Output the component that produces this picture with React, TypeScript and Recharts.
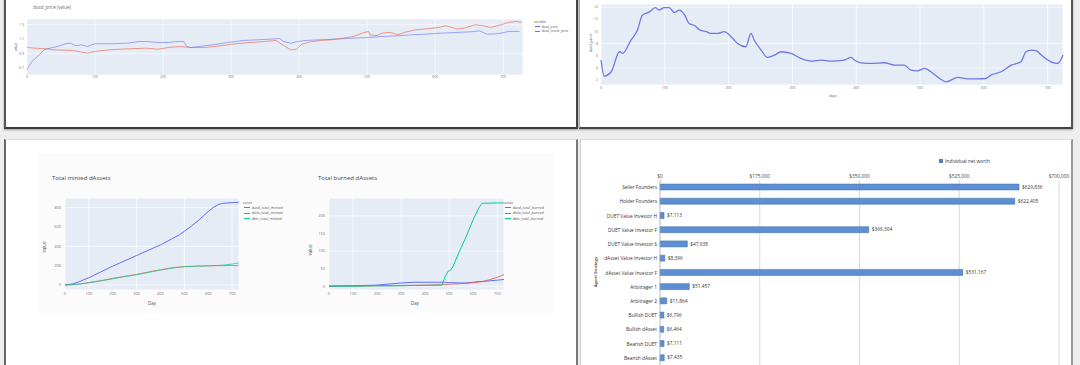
import { LineChart, Line, XAxis, YAxis, CartesianGrid, BarChart, Bar, LabelList } from 'recharts'

// ---- top left: dusd price ----
const dusdPriceDays = [0, 7, 18, 26, 34, 45, 56, 64, 72, 80, 89, 99, 121, 148, 165, 176, 192, 208, 219, 230, 235, 241, 252, 273, 295, 317, 339, 360, 371, 377, 388, 398, 409, 431, 453, 480, 502, 523, 545, 567, 589, 610, 632, 654, 665, 676, 686, 697, 708, 724]
const dusdPriceValues = [0.68, 0.79, 0.885, 0.963, 0.977, 1.0, 1.037, 1.046, 1.009, 1.023, 1.0, 1.037, 1.037, 1.046, 1.069, 1.069, 1.055, 1.055, 1.069, 1.069, 1.0, 0.986, 1.0, 1.023, 1.055, 1.083, 1.092, 1.102, 1.111, 1.069, 1.046, 1.069, 1.083, 1.092, 1.102, 1.115, 1.125, 1.138, 1.148, 1.162, 1.171, 1.185, 1.194, 1.203, 1.217, 1.171, 1.171, 1.185, 1.208, 1.208]
const oraclePriceDays = [0, 26, 40, 67, 80, 89, 99, 121, 148, 176, 192, 208, 224, 241, 262, 284, 306, 328, 349, 366, 374, 382, 388, 396, 404, 415, 431, 447, 464, 480, 493, 502, 504, 513, 523, 534, 545, 556, 572, 589, 605, 616, 632, 643, 659, 670, 681, 697, 708, 719, 727]
const oraclePriceValues = [0.986, 0.968, 0.954, 0.945, 0.922, 0.908, 0.931, 0.954, 0.968, 0.977, 0.963, 0.986, 1.0, 0.986, 0.986, 1.009, 1.037, 1.055, 1.069, 1.083, 1.032, 0.986, 0.954, 0.963, 1.032, 1.06, 1.083, 1.092, 1.115, 1.138, 1.185, 1.208, 1.162, 1.148, 1.185, 1.194, 1.162, 1.198, 1.231, 1.245, 1.263, 1.286, 1.24, 1.254, 1.3, 1.286, 1.263, 1.3, 1.332, 1.346, 1.332]
const priceSeriesNames = ['dusd_price', 'dusd_oracle_price']

// ---- top right: duet price ----
const duetDays = [0, 5, 16, 29, 34, 47, 57, 65, 76, 85, 91, 99, 107, 115, 123, 131, 138, 146, 154, 165, 172, 183, 193, 204, 214, 227, 235, 240, 251, 261, 272, 282, 298, 313, 329, 345, 361, 381, 392, 397, 408, 423, 444, 460, 475, 486, 496, 507, 517, 533, 541, 559, 575, 590, 603, 611, 627, 643, 658, 666, 674, 682, 690, 705, 716, 724]
const duetValues = [5.29, 2.66, 3.37, 6.66, 6.39, 8.58, 10.2, 12.7, 13.2, 13.9, 13.5, 13.9, 13.9, 13.1, 13.5, 12.7, 11.3, 11.0, 10.3, 9.95, 9.68, 9.68, 9.95, 9.12, 8.03, 7.48, 9.68, 8.58, 6.93, 5.73, 6.11, 6.66, 6.39, 5.57, 5.12, 5.29, 5.12, 5.29, 5.73, 5.29, 4.85, 4.74, 4.85, 4.47, 4.47, 3.64, 3.53, 3.92, 3.37, 2.11, 1.72, 2.44, 2.22, 2.22, 2.27, 2.82, 3.37, 4.47, 5.01, 6.66, 6.93, 6.83, 6.11, 5.01, 4.74, 6.11]

// ---- bottom left: minted / burned ----
const mintedDays = [0, 30, 60, 100, 150, 200, 250, 300, 350, 400, 450, 480, 500, 530, 560, 600, 620, 640, 660, 700, 728]
const dusdMinted = [0, 10, 35, 75, 135, 195, 250, 305, 360, 415, 480, 520, 555, 610, 670, 760, 800, 830, 845, 852, 855]
const dtslaMinted = [0, 4, 10, 25, 45, 68, 90, 110, 135, 158, 178, 186, 190, 193, 195, 198, 199, 200, 200, 202, 200]
const dbtcMinted = [0, 3, 9, 22, 42, 64, 86, 105, 130, 154, 175, 184, 189, 192, 195, 198, 200, 202, 205, 216, 228]
const mintedNames = ['dusd_total_minted', 'dtsla_total_minted', 'dbtc_total_minted']

const burnedDays = [0, 100, 200, 250, 300, 350, 400, 470, 485, 495, 505, 515, 540, 570, 600, 625, 637, 650, 700, 728]
const dusdBurned = [0, 1, 3, 6, 9, 11, 11, 11, 11, 10, 10, 10, 9, 9, 11, 13, 13, 14, 17, 19]
const dtslaBurned = [0, 0, 1, 1, 2, 2, 3, 4, 5, 5, 6, 6, 7, 8, 10, 12, 13, 15, 25, 33]
const dbtcBurned = [0, 0, 1, 1, 1, 2, 2, 3, 30, 42, 45, 55, 95, 140, 190, 225, 236, 236, 237, 237]
const burnedNames = ['dusd_total_burned', 'dtsla_total_burned', 'dbtc_total_burned']

// ---- bottom right: net worth ----
const strategies = ['Seller Founders', 'Holder Founders', 'DUET Value Investor H', 'DUET Value Investor F', 'DUET Value Investor S', 'dAsset Value Investor H', 'dAsset Value Investor F', 'Arbitrager 1', 'Arbitrager 2', 'Bullish DUET', 'Bullish dAsset', 'Bearish DUET', 'Bearish dAsset']
const netWorth = [629836, 622405, 7113, 366304, 47938, 8396, 531167, 51457, 11864, 6796, 6464, 7111, 7435]
const netWorthTicks = [0, 175000, 350000, 525000, 700000]

const dayTicks = [0, 100, 200, 300, 400, 500, 600, 700]
const PLOT_BG = '#e5ecf6'
const COLORS = ['#636efa', '#ef553b', '#00cc96']
const FONT = '"Open Sans", "Liberation Sans", sans-serif'
const BAR_FONT = 4.8

const zip = (days: number[], values: number[]) => days.map((day, i) => ({ day, value: values[i] }))

const money = (v: number) => '$' + v.toLocaleString('en-US')

function Txt({ x, y, size, color = '#555', rotate, center, children, weight }: any) {
  return (
    <div
      style={{
        position: 'absolute',
        left: x,
        top: y,
        fontSize: size,
        color,
        lineHeight: 1,
        whiteSpace: 'nowrap',
        fontWeight: weight,
        transform: `${center ? 'translate(-50%, -50%)' : ''} ${rotate ? `rotate(${rotate}deg)` : ''}`,
      }}
    >
      {children}
    </div>
  )
}

function PlotlyLegend({ x, y, title, names, size }: any) {
  return (
    <div style={{ position: 'absolute', left: x, top: y, fontSize: size, color: '#555', lineHeight: 1.45 }}>
      <div>{title}</div>
      {names.map((n: string, i: number) => (
        <div key={n} style={{ display: 'flex', alignItems: 'center', whiteSpace: 'nowrap' }}>
          <span style={{ display: 'inline-block', width: size * 1.6, height: 1, background: COLORS[i], marginRight: size * 0.5, marginLeft: size * 0.3 }} />
          {n}
        </div>
      ))}
    </div>
  )
}

function Panel({ style }: any) {
  return <div style={{ position: 'absolute', background: '#fff', boxSizing: 'border-box', ...style }} />
}

function StrategyTick({ x, y, payload }: any) {
  return (
    <text x={x} y={y} textAnchor="end" dominantBaseline="central" fontSize={BAR_FONT} fill="#333" fontFamily={FONT}>
      {payload.value}
    </text>
  )
}

export default function App() {
  const tick = (size: number) => ({ fontSize: size, fill: '#777', fontFamily: FONT })
  return (
    <div style={{ position: 'fixed', left: 0, top: 0, width: 1080, height: 365, overflow: 'hidden', background: '#eeeeee', fontFamily: FONT }}>
      <Panel style={{ left: 4, top: -2, width: 574, height: 131, borderLeft: '2px solid #555', borderRight: '2px solid #444', borderBottom: '2px solid #3a3a3a', boxShadow: '0 1px 2px rgba(0,0,0,0.35)' }} />
      <Panel style={{ left: 579, top: -2, width: 494, height: 131, borderLeft: '1px solid #aaa', borderRight: '2px solid #555', borderBottom: '2px solid #444', boxShadow: '0 1px 2px rgba(0,0,0,0.3)' }} />
      <Panel style={{ left: 4, top: 139, width: 574, height: 240, borderLeft: '2px solid #666', borderRight: '2px solid #777', borderTop: '1px solid #ddd' }} />
      <Panel style={{ left: 580, top: 139, width: 493, height: 240, borderLeft: '1px solid #ccc', borderRight: '2px solid #999', borderTop: '1px solid #ddd' }} />
      <div style={{ position: 'absolute', left: 37, top: 153, width: 518, height: 160, background: '#fbfbfc' }} />

      {/* top left */}
      <div style={{ position: 'absolute', left: 0, top: 0 }}>
        <LineChart width={580} height={130} margin={{ top: 19, right: 57, bottom: 0, left: 0 }}>
          <CartesianGrid fill={PLOT_BG} stroke="#fff" strokeWidth={0.6} />
          <XAxis type="number" dataKey="day" domain={[0, 729]} ticks={dayTicks} tick={tick(3.5)} tickLine={false} axisLine={false} height={55} tickSize={0} tickMargin={1} />
          <YAxis type="number" domain={[0.607, 1.379]} ticks={[0.7, 0.8, 0.9, 1, 1.1, 1.2, 1.3]} tick={tick(3.5)} tickLine={false} axisLine={false} width={27} tickSize={0} tickMargin={3} />
          <Line data={zip(dusdPriceDays, dusdPriceValues)} dataKey="value" name={priceSeriesNames[0]} stroke={COLORS[0]} strokeOpacity={0.65} strokeWidth={0.9} dot={false} isAnimationActive={false} />
          <Line data={zip(oraclePriceDays, oraclePriceValues)} dataKey="value" name={priceSeriesNames[1]} stroke={COLORS[1]} strokeOpacity={0.65} strokeWidth={0.9} dot={false} isAnimationActive={false} />
        </LineChart>
      </div>
      <Txt x={33} y={5} size={4.5} color="#666">dusd_price (value)</Txt>
      <Txt x={16} y={47} size={3.5} center rotate={-90}>value</Txt>
      <PlotlyLegend x={534} y={20} title="variable" names={priceSeriesNames} size={3.2} />

      {/* top right */}
      <div style={{ position: 'absolute', left: 578, top: 0 }}>
        <LineChart width={500} height={130} margin={{ top: 4, right: 15, bottom: 0, left: 0 }}>
          <CartesianGrid fill={PLOT_BG} stroke="#fff" strokeWidth={0.7} />
          <XAxis type="number" dataKey="day" domain={[0, 724]} ticks={dayTicks} tick={tick(3.5)} tickLine={false} axisLine={false} height={45} tickSize={0} tickMargin={2} />
          <YAxis type="number" domain={[1.2, 14.5]} ticks={[2, 4, 6, 8, 10, 12, 14]} tick={tick(3.5)} tickLine={false} axisLine={false} width={23} tickSize={0} tickMargin={3} />
          <Line data={zip(duetDays, duetValues)} type="monotone" dataKey="value" stroke="#6f79e6" strokeWidth={1.3} dot={false} isAnimationActive={false} />
        </LineChart>
      </div>
      <Txt x={591} y={43} size={3.8} center rotate={-90}>duet_price</Txt>
      <Txt x={833} y={96} size={3.5} center>days</Txt>

      {/* bottom left: minted */}
      <div style={{ position: 'absolute', left: 20, top: 150 }}>
        <LineChart width={300} height={200} margin={{ top: 48, right: 81, bottom: 0, left: 0 }}>
          <CartesianGrid fill={PLOT_BG} stroke="#fff" strokeWidth={0.7} />
          <XAxis type="number" dataKey="day" domain={[0, 729]} ticks={dayTicks} tick={tick(4)} tickLine={false} axisLine={false} height={60} tickSize={0} tickMargin={2} />
          <YAxis type="number" domain={[-52, 900]} ticks={[0, 200, 400, 600, 800]} tick={tick(4)} tickLine={false} axisLine={false} width={45} tickSize={0} tickMargin={4} />
          <Line data={zip(mintedDays, dusdMinted)} dataKey="value" stroke={COLORS[0]} strokeWidth={1} dot={false} isAnimationActive={false} />
          <Line data={zip(mintedDays, dtslaMinted)} dataKey="value" stroke={COLORS[1]} strokeOpacity={0.7} strokeWidth={1} dot={false} isAnimationActive={false} />
          <Line data={zip(mintedDays, dbtcMinted)} dataKey="value" stroke={COLORS[2]} strokeOpacity={0.7} strokeWidth={1} dot={false} isAnimationActive={false} />
        </LineChart>
      </div>
      <Txt x={52} y={175} size={6} color="#444">Total minted dAssets</Txt>
      <Txt x={44} y={247} size={4.5} center rotate={-90}>value</Txt>
      <Txt x={152} y={303} size={4.5} center>Day</Txt>
      <PlotlyLegend x={243} y={200} title="asset" names={mintedNames} size={3.6} />

      {/* bottom left: burned */}
      <div style={{ position: 'absolute', left: 290, top: 150 }}>
        <LineChart width={250} height={200} margin={{ top: 48, right: 36, bottom: 0, left: 0 }}>
          <CartesianGrid fill={PLOT_BG} stroke="#fff" strokeWidth={0.7} />
          <XAxis type="number" dataKey="day" domain={[0, 725]} ticks={dayTicks} tick={tick(4)} tickLine={false} axisLine={false} height={60} tickSize={0} tickMargin={2} />
          <YAxis type="number" domain={[-11, 251]} ticks={[0, 50, 100, 150, 200]} tick={tick(4)} tickLine={false} axisLine={false} width={39} tickSize={0} tickMargin={4} />
          <Line data={zip(burnedDays, dusdBurned)} dataKey="value" stroke={COLORS[0]} strokeWidth={1} dot={false} isAnimationActive={false} />
          <Line data={zip(burnedDays, dtslaBurned)} dataKey="value" stroke={COLORS[1]} strokeOpacity={0.8} strokeWidth={1} dot={false} isAnimationActive={false} />
          <Line data={zip(burnedDays, dbtcBurned)} dataKey="value" stroke={COLORS[2]} strokeWidth={1} dot={false} isAnimationActive={false} />
        </LineChart>
      </div>
      <Txt x={318} y={175} size={6} color="#444">Total burned dAssets</Txt>
      <Txt x={310} y={250} size={4.5} center rotate={-90}>value</Txt>
      <Txt x={415} y={303} size={4.5} center>Day</Txt>
      <PlotlyLegend x={504} y={200} title="asset" names={burnedNames} size={3.6} />

      {/* bottom right: net worth */}
      <div style={{ position: 'absolute', left: 578, top: 140 }}>
        <BarChart
          layout="vertical"
          width={500}
          height={226}
          data={strategies.map((s, i) => ({ strategy: s, worth: netWorth[i] }))}
          margin={{ top: 30, right: 19, bottom: 1, left: 0 }}
        >
          <CartesianGrid horizontal={false} stroke="#cfcfcf" strokeWidth={0.8} />
          <XAxis type="number" orientation="top" domain={[0, 700000]} ticks={netWorthTicks} tickFormatter={money} tick={{ ...tick(BAR_FONT), fill: '#444' }} tickLine={false} axisLine={false} height={10} tickSize={0} tickMargin={2} />
          <YAxis type="category" dataKey="strategy" tick={<StrategyTick />} tickLine={false} axisLine={{ stroke: '#bbb', strokeWidth: 0.6 }} width={82} tickSize={0} tickMargin={3} interval={0} />
          <Bar dataKey="worth" fill="#5d8fd3" stroke="#3e6aa8" strokeWidth={0.5} barSize={6} isAnimationActive={false}>
            <LabelList dataKey="worth" position="right" offset={3} formatter={(v: any) => money(Number(v))} style={{ fontSize: BAR_FONT, fill: '#333', fontFamily: FONT }} />
          </Bar>
        </BarChart>
      </div>
      <div style={{ position: 'absolute', left: 939, top: 159, width: 4, height: 4, background: '#4f81bd' }} />
      <Txt x={945} y={158.5} size={BAR_FONT} color="#333">Individual net worth</Txt>
      <Txt x={595} y={272} size={4.3} color="#333" center rotate={-90} weight={600}>Agent Strategy</Txt>
    </div>
  )
}
